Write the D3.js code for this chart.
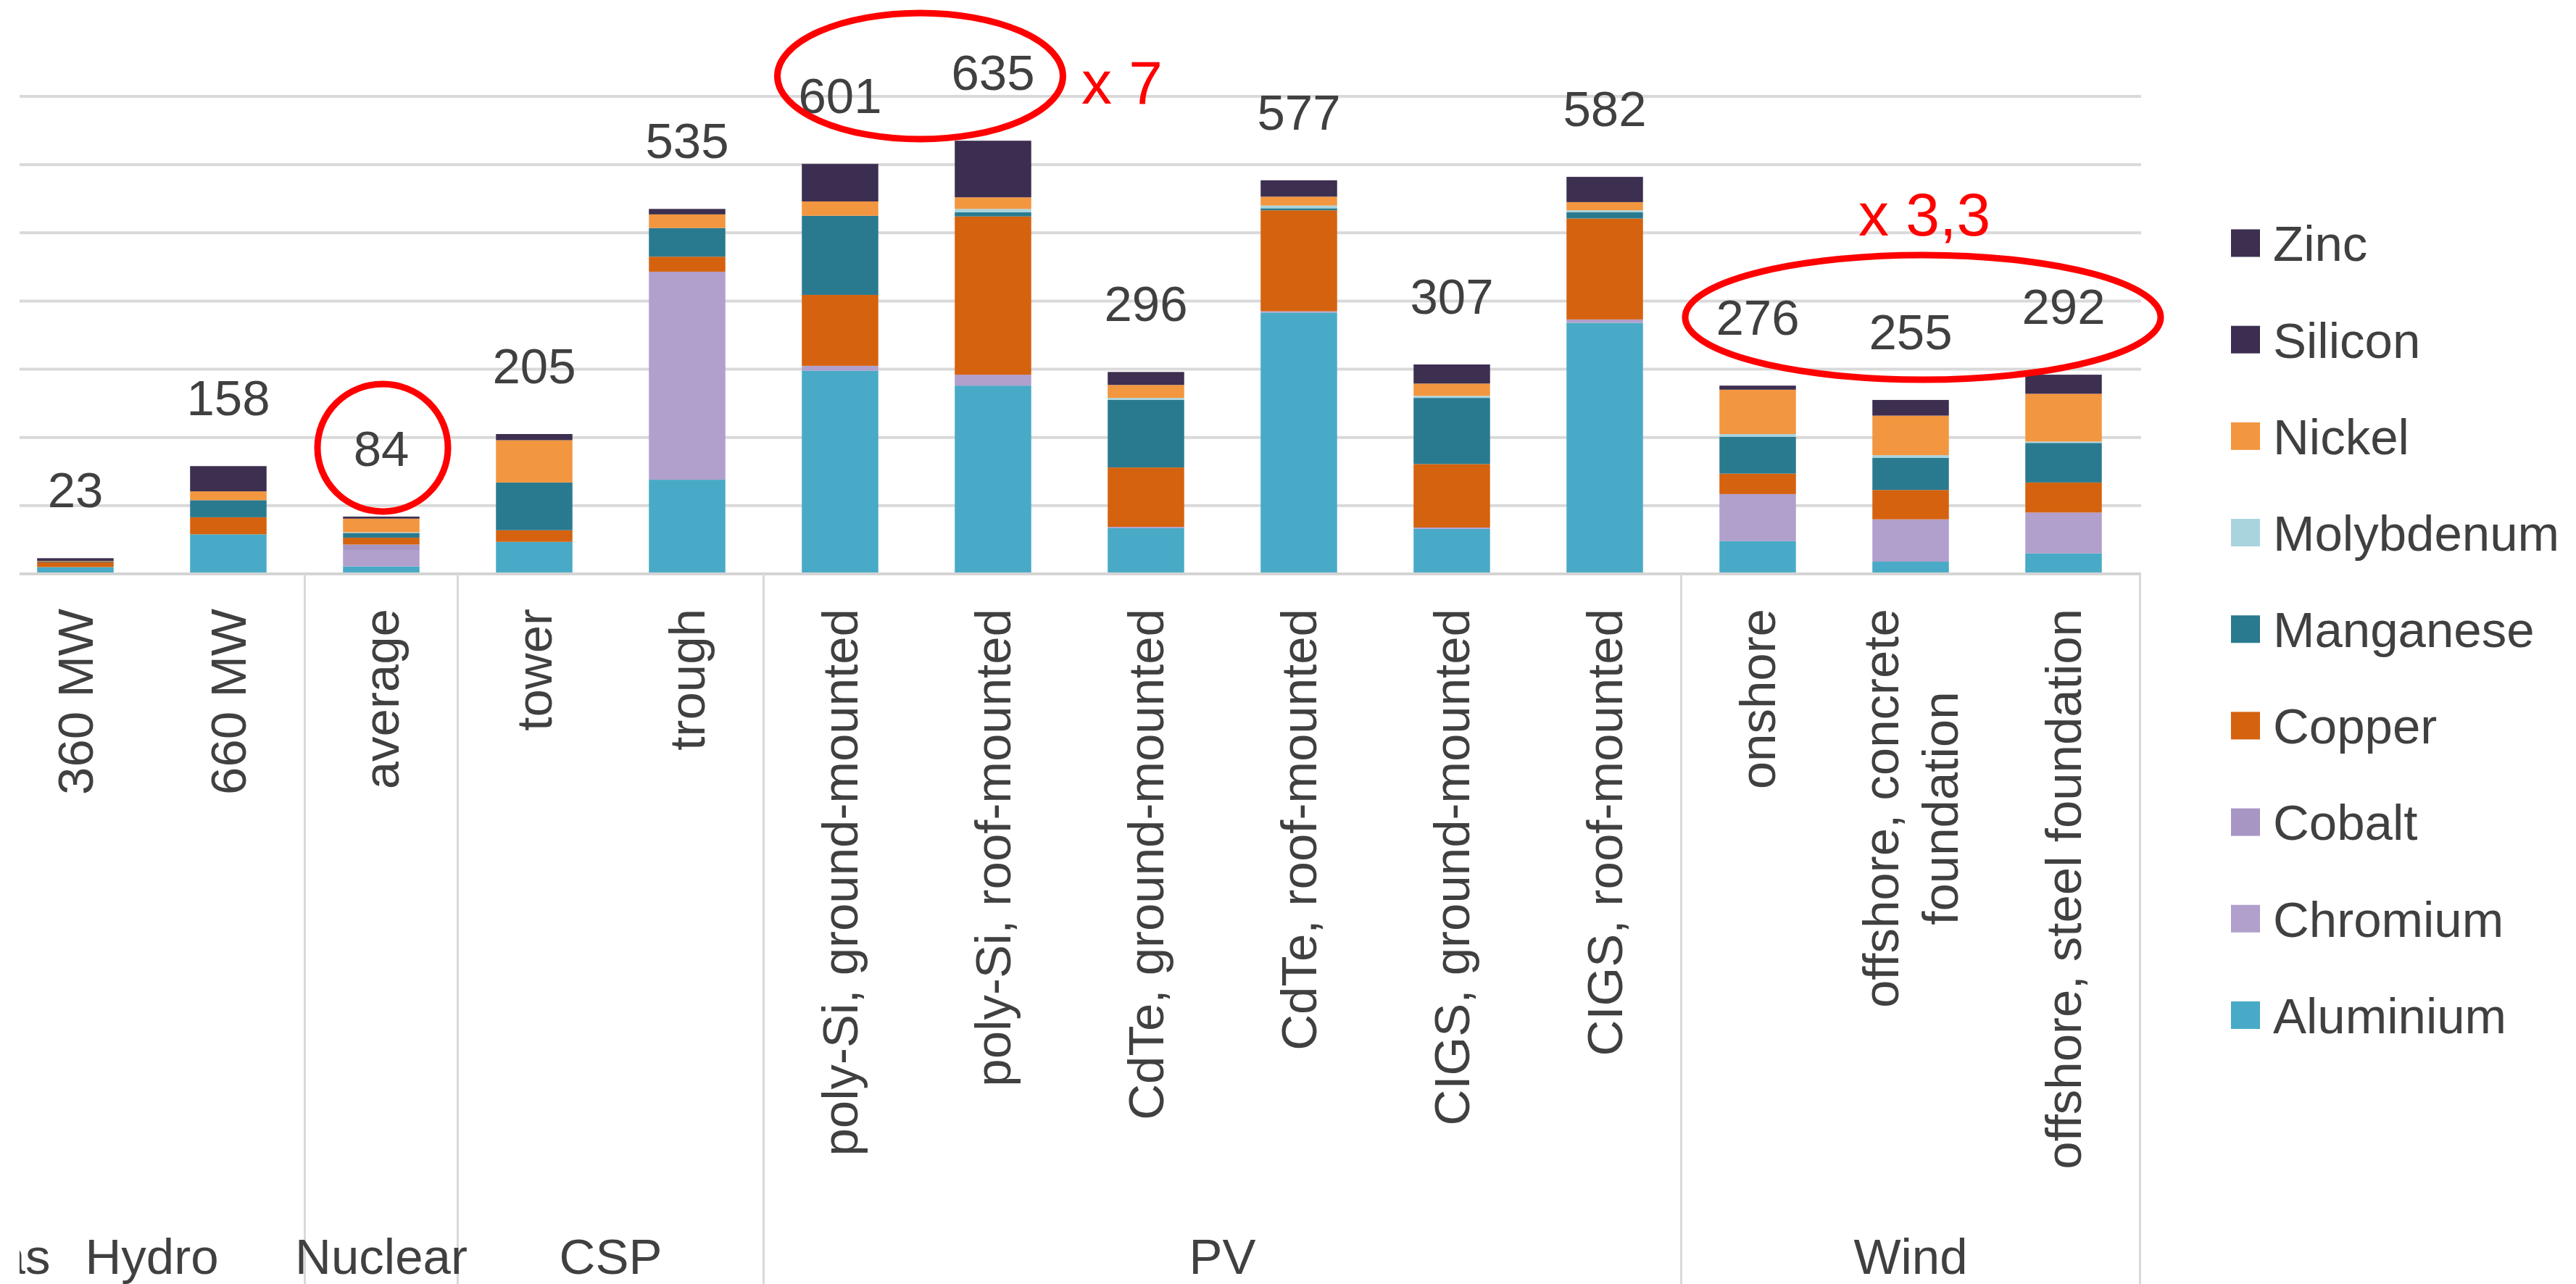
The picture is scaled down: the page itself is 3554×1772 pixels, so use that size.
<!DOCTYPE html>
<html>
<head>
<meta charset="utf-8">
<script src="https://cdn.jsdelivr.net/npm/d3@7"></script>
<style>
  html, body { margin: 0; padding: 0; background: #ffffff; }
  svg { display: block; font-family: "Liberation Sans", Arial, Helvetica, sans-serif; }
</style>
</head>
<body>
<svg id="chart" width="3554" height="1772"></svg>
<script>
// Metal requirements per technology (stacked by metal), grouped by power source
const categories = [
  "360 MW", "660 MW", "average", "tower", "trough",
  "poly-Si, ground-mounted", "poly-Si, roof-mounted",
  "CdTe, ground-mounted", "CdTe, roof-mounted",
  "CIGS, ground-mounted", "CIGS, roof-mounted",
  "onshore", "offshore, concrete foundation", "offshore, steel foundation"
];
const categoryLines = [
  ["360 MW"], ["660 MW"], ["average"], ["tower"], ["trough"],
  ["poly-Si, ground-mounted"], ["poly-Si, roof-mounted"],
  ["CdTe, ground-mounted"], ["CdTe, roof-mounted"],
  ["CIGS, ground-mounted"], ["CIGS, roof-mounted"],
  ["onshore"], ["offshore, concrete", "foundation"], ["offshore, steel foundation"]
];
const categoryGroup = [
  "Hydro", "Hydro", "Nuclear", "CSP", "CSP",
  "PV", "PV", "PV", "PV", "PV", "PV",
  "Wind", "Wind", "Wind"
];
const groupNames = ["Hydro", "Nuclear", "CSP", "PV", "Wind"];
const leadingGroup = "Natural gas";   // group whose column sits just left of the frame

const totals = [23, 158, 84, 205, 535, 601, 635, 296, 577, 307, 582, 276, 255, 292];

// Series, stacked bottom to top
const seriesNames = ["Aluminium", "Chromium", "Cobalt", "Copper", "Manganese", "Molybdenum", "Nickel", "Silicon", "Zinc"];
const aluminium  = [10, 58, 11, 47, 138, 298, 276, 67, 383, 66, 368, 48, 18, 30];
const chromium   = [0, 0, 24, 0, 305, 7, 16, 2, 2, 2, 5, 69, 62, 60];
const cobalt     = [0, 0, 8, 0, 0, 0, 0, 0, 0, 0, 0, 0, 0, 0];
const copper     = [7, 25, 10, 17, 22, 104, 232, 87, 148, 93, 148, 30, 43, 44];
const manganese  = [1, 25, 7, 70, 42, 116, 6, 99, 3, 97, 9, 54, 47, 58];
const molybdenum = [0, 0, 1, 0, 0, 0, 5, 3, 4, 3, 3, 4, 4, 2];
const nickel     = [1, 13, 20, 62, 20, 21, 17, 19, 13, 18, 12, 65, 58, 70];
const silicon    = [0, 0, 0, 0, 0, 55, 83, 0, 0, 0, 0, 0, 0, 0];
const zinc       = [4, 37, 3, 9, 8, 0, 0, 19, 24, 28, 37, 6, 23, 28];
const seriesValues = [aluminium, chromium, cobalt, copper, manganese, molybdenum, nickel, silicon, zinc];

const seriesColors = ["#48aac6", "#b19fcc", "#a796c4", "#d5620f", "#2a7a8f", "#a8d4de", "#f2963f", "#3c2e50", "#3d2f50"];

const gridValues = [100, 200, 300, 400, 500, 600, 700];

// ---- layout ----
const svg = d3.select("#chart");
const W = 3554, H = 1772;
const baseY = 792, topY = 133;
const plotLeft = -1.5, plotRight = 2952.5;
const textColor = "#404040";
const fontSize = 69;

const y = d3.scaleLinear().domain([0, 700]).range([baseY, topY]);
const x = d3.scaleBand().domain(categories).range([plotLeft, plotRight])
  .paddingInner(0.5).paddingOuter(0.25);
const step = x.step(), bw = x.bandwidth();
const xc = c => x(c) + bw / 2;

const color = d3.scaleOrdinal().domain(seriesNames).range(seriesColors);

// table rows for the stack layout
const rows = categories.map((c, i) => {
  const r = { category: c };
  seriesNames.forEach((s, k) => { r[s] = seriesValues[k][i]; });
  return r;
});
const stacked = d3.stack().keys(seriesNames)(rows);

svg.append("rect").attr("width", W).attr("height", H).attr("fill", "#ffffff");

// horizontal gridlines
svg.append("g").selectAll("line").data(gridValues).join("line")
  .attr("x1", plotLeft).attr("x2", plotRight + 1.5)
  .attr("y1", d => y(d)).attr("y2", d => y(d))
  .attr("stroke", "#d9d9d9").attr("stroke-width", 4);

// bars
svg.append("g").selectAll("g").data(stacked).join("g")
  .attr("fill", d => color(d.key))
  .selectAll("rect").data(d => d).join("rect")
  .attr("x", d => x(d.data.category))
  .attr("width", bw)
  .attr("y", d => y(d[1]))
  .attr("height", d => Math.max(0, y(d[0]) - y(d[1])));

// category axis line
svg.append("line")
  .attr("x1", plotLeft).attr("x2", plotRight + 1.5)
  .attr("y1", baseY).attr("y2", baseY)
  .attr("stroke", "#d4d4d4").attr("stroke-width", 4);

// total labels above the stacks
svg.append("g").selectAll("text").data(categories).join("text")
  .attr("x", c => xc(c))
  .attr("y", (c, i) => y(totals[i]) - 70)
  .attr("text-anchor", "middle")
  .attr("font-size", fontSize)
  .attr("fill", textColor)
  .text((c, i) => totals[i]);

// rotated category labels
const labelTop = 840;
const lineGap = 82;
const catG = svg.append("g").attr("font-size", fontSize).attr("fill", textColor);
categories.forEach((c, i) => {
  const lines = categoryLines[i];
  const g = catG.append("g");
  const texts = lines.map((t, j) => g.append("text")
    .attr("text-anchor", "middle")
    .attr("dy", "0.35em")
    .text(t));
  const maxLen = d3.max(texts, t => t.node().getComputedTextLength());
  const cy = labelTop + maxLen / 2;
  texts.forEach((t, j) => {
    const offset = (j - (lines.length - 1) / 2) * lineGap;
    t.attr("transform", `translate(${xc(c) + offset},${cy}) rotate(-90)`);
  });
});

// group separators and group labels
const groupInfo = groupNames.map(gname => {
  const idx = categories.filter((c, i) => categoryGroup[i] === gname);
  const left = xc(idx[0]) - step / 2;
  const right = xc(idx[idx.length - 1]) + step / 2;
  return { name: gname, left, right, center: (left + right) / 2 };
});
const sepX = groupInfo.map(g => g.left).concat([groupInfo[groupInfo.length - 1].right]);
svg.append("g").selectAll("line").data(sepX).join("line")
  .attr("x1", d => d).attr("x2", d => d)
  .attr("y1", baseY).attr("y2", H)
  .attr("stroke", "#d9d9d9").attr("stroke-width", 3);

const groupLabelY = 1758;
const groupLabels = [{ name: leadingGroup, center: groupInfo[0].left - step / 2 }].concat(groupInfo);
svg.append("g").selectAll("text").data(groupLabels).join("text")
  .attr("x", d => d.center).attr("y", groupLabelY)
  .attr("text-anchor", "middle")
  .attr("font-size", fontSize)
  .attr("fill", textColor)
  .text(d => d.name);

// legend (top of stack first)
const legendOrder = seriesNames.slice().reverse();
const ly = d3.scalePoint().domain(legendOrder).range([335.5, 1401]);
const legend = svg.append("g");
const li = legend.selectAll("g").data(legendOrder).join("g")
  .attr("transform", d => `translate(3078,${ly(d)})`);
li.append("rect").attr("x", 0).attr("y", -19).attr("width", 40).attr("height", 38)
  .attr("fill", d => color(d));
li.append("text").attr("x", 58).attr("dy", "0.36em")
  .attr("font-size", fontSize).attr("fill", textColor)
  .text(d => d);

// red highlight annotations
const ann = svg.append("g").attr("fill", "none").attr("stroke", "#ff0000").attr("stroke-width", 9);
ann.append("ellipse")
  .attr("cx", (xc(categories[5]) + xc(categories[6])) / 2 + 5)
  .attr("cy", y(700) - 28).attr("rx", 197).attr("ry", 87);
ann.append("ellipse")
  .attr("cx", xc(categories[2]) + 2)
  .attr("cy", y(totals[2]) - 95).attr("rx", 90).attr("ry", 88);
ann.append("ellipse")
  .attr("cx", xc(categories[12]) + 17)
  .attr("cy", 438).attr("rx", 328).attr("ry", 86);

svg.append("text").attr("x", 1492).attr("y", 143)
  .attr("font-size", 84).attr("fill", "#ff0000").text("x 7");
svg.append("text").attr("x", 2564).attr("y", 325)
  .attr("font-size", 84).attr("fill", "#ff0000").text("x 3,3");

// blank margin along the left edge
svg.append("rect").attr("x", 0).attr("y", 0).attr("width", 27).attr("height", H).attr("fill", "#ffffff");
</script>
</body>
</html>
